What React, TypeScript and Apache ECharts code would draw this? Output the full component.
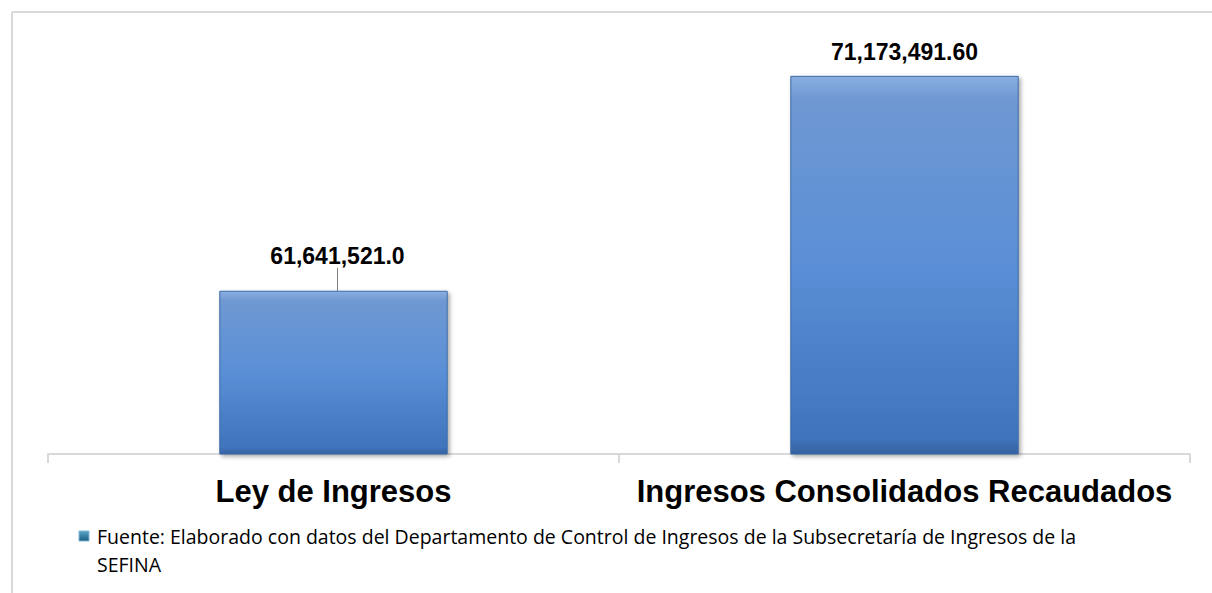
import React, { useEffect, useRef } from "react";
import * as echarts from "echarts";

const categories = ["Ley de Ingresos", "Ingresos Consolidados Recaudados"];
const values = [61641521.0, 71173491.6];
const valueLabels = ["61,641,521.0", "71,173,491.60"];
const sourceLines = [
  "Fuente: Elaborado con datos del Departamento de Control de Ingresos de la Subsecretaría de Ingresos de la",
  "SEFINA",
];

export default function App() {
  const ref = useRef<HTMLDivElement>(null);
  useEffect(() => {
    document.body.style.margin = "0";
    const chart = echarts.init(ref.current!, null, { renderer: "svg" });
    const barGradient = new echarts.graphic.LinearGradient(0, 0, 0, 1, [
      { offset: 0, color: "#8aaee0" },
      { offset: 0.06, color: "#6f98d2" },
      { offset: 0.5, color: "#5a8fd6" },
      { offset: 0.96, color: "#3f74bc" },
      { offset: 1, color: "#35619f" },
    ]);
    chart.setOption({
      animation: false,
      backgroundColor: "#ffffff",
      grid: { left: 48, right: 22, top: 20, bottom: 139, containLabel: false },
      xAxis: {
        type: "category",
        data: categories,
        axisLine: { show: true, lineStyle: { color: "#d9d9d9", width: 2 } },
        axisTick: { show: true, length: 9, lineStyle: { color: "#d9d9d9", width: 2 } },
        axisLabel: {
          interval: 0,
          color: "#000000",
          fontFamily: "'Liberation Sans', Arial, sans-serif",
          fontWeight: "bold",
          fontSize: 31,
          margin: 22,
        },
      },
      yAxis: {
        type: "value",
        min: 54400000,
        max: 73650000,
        show: false,
        splitLine: { show: false },
      },
      series: [
        {
          type: "bar",
          name: sourceLines.join(" "),
          barCategoryGap: "60%",
          data: values.map((v, i) => ({
            value: v,
            labelLine: { show: i === 0 },
          })),
          itemStyle: {
            color: barGradient,
            borderColor: "#3b6aa6",
            borderWidth: 1,
            shadowBlur: 4,
            shadowColor: "rgba(0,0,0,0.35)",
            shadowOffsetX: 2,
            shadowOffsetY: 2,
          },
          label: {
            show: true,
            position: "top",
            distance: 5,
            color: "#000000",
            fontFamily: "'Liberation Sans', Arial, sans-serif",
            fontWeight: "bold",
            fontSize: 23,
            formatter: (p: any) => valueLabels[p.dataIndex],
          },
          labelLine: { show: false, lineStyle: { color: "#808080", width: 1 } },
          labelLayout: (p: any) => (p.dataIndex === 0 ? { dy: -18, dx: 4 } : { dy: -7 }),
        },
      ],
      graphic: [
        {
          type: "line",
          shape: { x1: 12, y1: 12, x2: 1212, y2: 12 },
          style: { stroke: "#d9d9d9", lineWidth: 2 },
        },
        {
          type: "line",
          shape: { x1: 12, y1: 12, x2: 12, y2: 593 },
          style: { stroke: "#d9d9d9", lineWidth: 2 },
        },
        {
          type: "rect",
          shape: { x: 79, y: 531, width: 10, height: 10 },
          style: {
            fill: new echarts.graphic.LinearGradient(0, 0, 0, 1, [
              { offset: 0, color: "#5aa6c9" },
              { offset: 1, color: "#1b5c82" },
            ]),
            stroke: "#7fb6d2",
            lineWidth: 1,
          },
        },
        {
          type: "text",
          x: 97,
          y: 522,
          style: {
            text: sourceLines.join("\n"),
            fill: "#000000",
            font: "19.5px 'Open Sans', 'Noto Sans', sans-serif",
            lineHeight: 28,
            textVerticalAlign: "top",
          },
        },
      ],
    });
    return () => chart.dispose();
  }, []);
  return <div ref={ref} style={{ width: 1212, height: 593 }} />;
}
